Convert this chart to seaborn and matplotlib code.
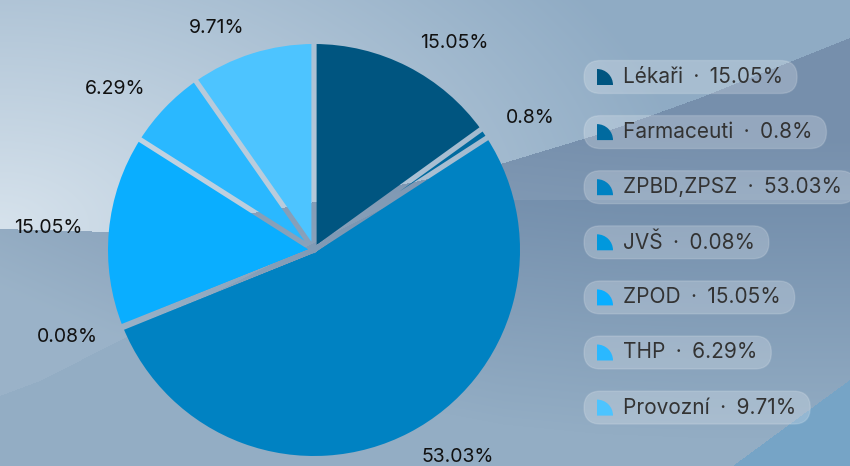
import numpy as np
import seaborn as sns
import matplotlib.pyplot as plt
from matplotlib.colors import to_rgb
from matplotlib.patches import Wedge, FancyBboxPatch
from matplotlib.path import Path

sns.set_theme(style='white')
plt.rcParams['font.family'] = ['Inter', 'DejaVu Sans']

# ---------------- data ----------------
categories = ['Lékaři', 'Farmaceuti', 'ZPBD,ZPSZ', 'JVŠ', 'ZPOD', 'THP', 'Provozní']
shares = [15.05, 0.8, 53.03, 0.08, 15.05, 6.29, 9.71]
slice_colors = ['#005580', '#006a9f', '#0082c2', '#0098dd', '#0aaeff', '#2ab8ff', '#4dc4ff']
value_labels = [f'{v:g}%' for v in shares]

W, H = 850, 466
palette = sns.color_palette(slice_colors)

# ---------------- background (pixel grid, y down) ----------------
yy, xx = np.mgrid[0:H, 0:W].astype(float) + 0.5
yb = np.interp(xx, [0, 110, 200, 300, 400, 504, 600, 700, 780, 850],
               [229, 232, 222, 205, 185, 163, 134, 98, 66, 38])
t = np.clip(np.sqrt((xx / 700) ** 2 + ((yy - 225) / 420) ** 2), 0, 1)[..., None]
light, dark = np.array(to_rgb('#d6e2ec')), np.array(to_rgb('#8fabc4'))
top_part = light * (1 - t) + dark * t

s = np.clip((yy - yb) / 300 + 0.8 * (1 - xx / 600), 0, 1)[..., None]
d2, l2 = np.array(to_rgb('#6c87a6')), np.array(to_rgb('#93adc4'))
low_part = d2 * (1 - s) + l2 * s
yc = np.interp(xx, [0, 40, 125, 300, 400], [396, 381, 338, 250, 200])
band = ((yy > yb) & (yy < yc))[..., None]
low_part = np.where(band, low_part * 0.93 + 0.07, low_part)
br = (yy > 466 - (xx - 733) * (86 / 117))[..., None]
low_part = np.where(br, np.array(to_rgb('#76a4c6')), low_part)

bg = np.where((yy < yb)[..., None], top_part, low_part)

# ---------------- figure ----------------
fig = plt.figure(figsize=(W / 100, H / 100), dpi=100)
ax = fig.add_axes([0, 0, 1, 1])
ax.imshow(bg, extent=(0, W, 0, H), origin='upper', zorder=0)

cx, cy, R = 314, H - 250, 206
wedges, texts = ax.pie(shares, colors=palette, startangle=90, counterclock=False,
                       center=(cx, cy), radius=R, labels=value_labels,
                       labeldistance=1.131, wedgeprops=dict(linewidth=0),
                       textprops=dict(fontsize=14, color='#111111'))
# pie picks alignment from absolute x, which is wrong with an offset centre
for tx in texts:
    tx.set_ha('left' if tx.get_position()[0] >= cx else 'right')
    tx.set_va('center')
    tx.set_zorder(5)

# gaps between slices show the background
bounds = np.concatenate([[0], np.cumsum(shares)]) / sum(shares) * 360
polys = []
hw = 2.6
for th in np.deg2rad(bounds[:-1]):
    d = np.array([np.sin(th), np.cos(th)])
    n = np.array([-d[1], d[0]])
    c = np.array([cx, cy])
    p0, p1 = c - d * 2, c + d * (R + 4)
    polys.append(Path([p0 + n * hw, p1 + n * hw, p1 - n * hw, p0 - n * hw, p0 + n * hw], closed=True))
gap_path = Path.make_compound_path(*polys)
gap_img = ax.imshow(bg, extent=(0, W, 0, H), origin='upper', zorder=2)
gap_img.set_clip_path(gap_path, ax.transData)

ax.set_xlim(0, W)
ax.set_ylim(0, H)
ax.set_aspect('auto')
ax.axis('off')

# ---------------- legend pills ----------------
row_y = [77 + i * 55.1 for i in range(len(categories))]
legend_texts = []
for cat, lab, yv in zip(categories, value_labels, row_y):
    legend_texts.append(ax.text(623, H - yv, f'{cat}\u2002·\u2002{lab}', fontsize=15,
                                color='#333333', va='center', ha='left', zorder=6))
fig.canvas.draw()
for txt, col, yv in zip(legend_texts, palette, row_y):
    right = txt.get_window_extent().x1
    yu = H - yv
    ax.add_patch(FancyBboxPatch((584, yu - 16.5), right + 14 - 584, 33,
                                boxstyle='round,pad=0,rounding_size=16.5',
                                fc=(1, 1, 1, 0.22), ec=(1, 1, 1, 0.15), lw=1, zorder=4))
    ax.add_patch(Wedge((597, yu - 8), 16, 0, 90, fc=col, ec='none', zorder=5))

fig.savefig('out.png', dpi=100)
